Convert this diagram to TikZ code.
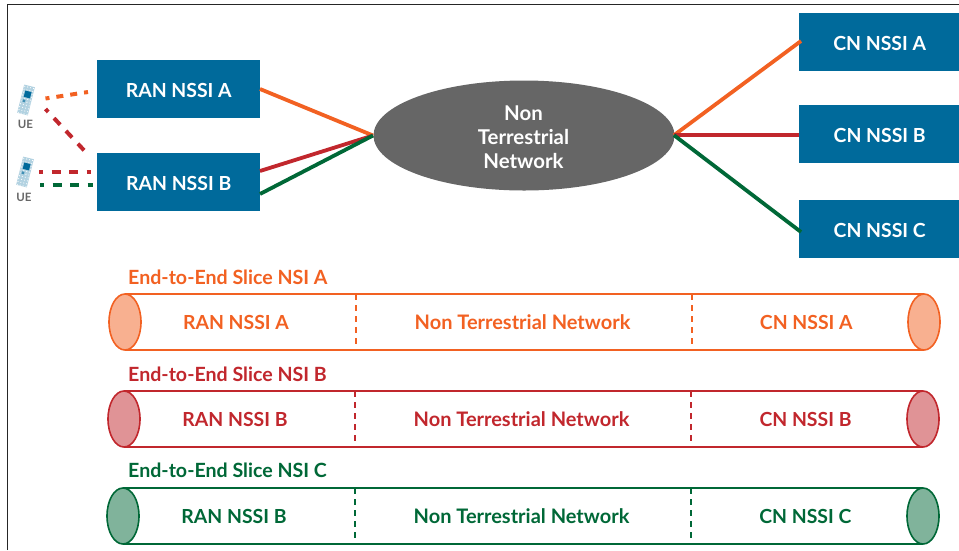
\documentclass[tikz,border=0pt]{standalone}
\usepackage{fontspec}
\setmainfont{Lato}
\usetikzlibrary{shapes.geometric,calc}
\definecolor{nblue}{HTML}{006A9B}
\definecolor{ngray}{HTML}{666666}
\definecolor{norange}{HTML}{F26122}
\definecolor{nred}{HTML}{C1272D}
\definecolor{ngreen}{HTML}{006837}
\tikzset{
  x=1pt,y=-1pt,
  bluebox/.style={draw=none,fill=nblue,text=white,font=\fontsize{19.4}{20}\selectfont\bfseries,minimum width=163,minimum height=58,inner sep=0,anchor=north west,text height=16pt,text depth=0pt},
  cnbox/.style={bluebox,minimum width=161},
  solidlink/.style={line width=3.8},
  uelink/.style={line width=4,dash pattern=on 7 off 7,dash phase=3},
  uelinklong/.style={line width=4,dash pattern=on 9 off 8.5,dash phase=5},
  pipe/.style={draw=#1,line width=1.6,fill=white},
  capend/.style={ellipse,draw=#1,line width=1.6,fill=#1!50!white,minimum width=32,minimum height=56,inner sep=0},
  slicetitle/.style={text=#1,font=\fontsize{19.6}{20}\selectfont\bfseries,anchor=west,inner sep=0},
  slicetext/.style={text=#1,font=\fontsize{19.4}{20}\selectfont\bfseries,inner sep=0},
  slicewide/.style={text=#1,font=\fontsize{20}{20}\selectfont\bfseries,inner sep=0},
  divider/.style={draw=#1,line width=1.6,dash pattern=on 6 off 5},
  uelabel/.style={text=ngray,font=\fontsize{11.5}{12}\selectfont\bfseries,inner sep=0},
}
\newcommand{\phoneicon}[2]{%
  \begin{scope}[shift={(#1,#2)},rotate=-14]
    \fill[nblue!30!white] (-5.5,-14.5) rectangle (5.5,14.5);
    \foreach \i in {-13,-10,...,14} \foreach \j in {-4.5,-1.5,1.5,4.5}
      \fill[white] (\j,\i) circle (0.6);
    \fill[nblue] (-3,-9) rectangle (3.5,-2.5);
    \fill[nblue!75!white] (-3,0) rectangle (-0.5,2.5);
  \end{scope}}
\newcommand{\slicerow}[8]{% y top, x left, x right, d1, d2, colour, ran, cn
  \coordinate (tl#6) at (#2,#1);
  \coordinate (tr#6) at (#3,#1);
  \coordinate (bl#6) at (#2,#1+56);
  \coordinate (br#6) at (#3,#1+56);
  \draw[pipe=#6] (tl#6) -- (tr#6) (bl#6) -- (br#6);
  \node[capend=#6] (capl#6) at (#2,#1+28) {};
  \node[capend=#6] (capr#6) at (#3,#1+28) {};
  \coordinate (dat#6) at (#4,#1); \coordinate (dab#6) at (#4,#1+56);
  \coordinate (dbt#6) at (#5,#1); \coordinate (dbb#6) at (#5,#1+56);
  \draw[divider=#6] (dat#6) -- (dab#6);
  \draw[divider=#6] (dbt#6) -- (dbb#6);
  \node[slicetext=#6] (ran#6) at (#2+111,#1+28) {#7};
  \node[slicewide=#6] (ntn#6) at (#4+166.5,#1+28.5) {Non Terrestrial Network};
  \node[slicetext=#6] (cn#6) at (#5+114.5,#1+28) {#8};
}
\begin{document}
\begin{tikzpicture}
\useasboundingbox (0,0) rectangle (959,550);
% frame
\coordinate (fb) at (7.5,550); \coordinate (fc) at (7.5,4.5); \coordinate (fr) at (959,4.5);
\draw[black!85,line width=1] (fb) -- (fc) -- (fr);

% boxes
\node[bluebox] (ranA) at (97,60) {RAN NSSI A};
\node[bluebox] (ranB) at (97,153) {RAN NSSI B};
\node[cnbox] (cnA) at (799,13) {CN NSSI A};
\node[cnbox] (cnB) at (799,105) {CN NSSI B};
\node[cnbox] (cnC) at (799,200) {CN NSSI C};
\node[ellipse,fill=ngray,minimum width=301,minimum height=110,inner sep=0] (ntn) at (524,135.5) {};
\node[text=white,font=\fontsize{20.4}{24}\selectfont\bfseries,align=center,inner sep=0] (ntnlabel) at (523.5,137.5) {Non\\Terrestrial\\Network};

% solid links
\coordinate (nl) at (373,135.5); \coordinate (nr) at (674,135.2);
\coordinate (ra) at (260,89); \coordinate (rb1) at (260,171); \coordinate (rb2) at (260,194);
\coordinate (ca) at (801,41); \coordinate (cb) at (799,135.2); \coordinate (cc) at (801,232);
\draw[solidlink,norange] (ra) -- (nl);
\draw[solidlink,nred] (rb1) -- (nl);
\draw[solidlink,ngreen] (rb2) -- (nl);
\draw[solidlink,norange] (nr) -- (ca);
\draw[solidlink,nred] (nr) -- (cb);
\draw[solidlink,ngreen] (nr) -- (cc);

% UE
\phoneicon{26}{100}
\phoneicon{25}{172}
\node[uelabel] (ue1) at (25.5,124) {UE};
\node[uelabel] (ue2) at (24,197) {UE};
\coordinate (u1a) at (45.5,98.5); \coordinate (u1b) at (88,92);
\coordinate (u2a) at (45.5,109); \coordinate (u2b) at (87.5,154);
\coordinate (u3a) at (39,172); \coordinate (u3b) at (91,172);
\coordinate (u4a) at (40,185.2); \coordinate (u4b) at (93,185.2);
\draw[uelink,norange] (u1a) -- (u1b);
\draw[uelinklong,nred] (u2a) -- (u2b);
\draw[uelinklong,nred] (u3a) -- (u3b);
\draw[uelinklong,ngreen] (u4a) -- (u4b);

% slices
\node[slicetitle=norange] (ta) at (128,277) {End-to-End Slice NSI A};
\slicerow{294}{125}{924}{356}{691.8}{norange}{RAN NSSI A}{CN NSSI A}
\node[slicetitle=nred] (tb) at (128,374) {End-to-End Slice NSI B};
\slicerow{391}{124}{923}{355}{691}{nred}{RAN NSSI B}{CN NSSI B}
\node[slicetitle=ngreen] (tc) at (128,470) {End-to-End Slice NSI C};
\slicerow{488}{123}{923}{355}{690.8}{ngreen}{RAN NSSI B}{CN NSSI C}
\end{tikzpicture}
\end{document}
